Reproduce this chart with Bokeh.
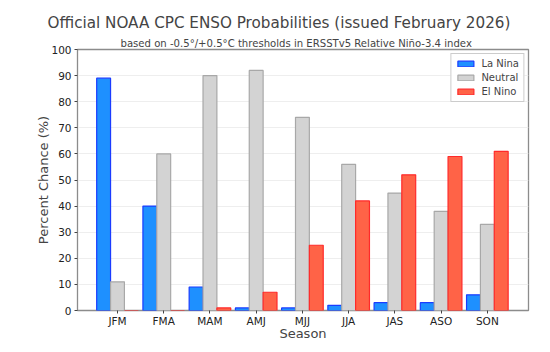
from bokeh.plotting import figure
from bokeh.models import ColumnDataSource, FixedTicker, Range1d, Title, Legend, LegendItem
from bokeh.embed import file_html
from bokeh.resources import INLINE

seasons = ["JFM", "FMA", "MAM", "AMJ", "MJJ", "JJA", "JAS", "ASO", "SON"]
la_nina = [89, 40, 9, 1, 1, 2, 3, 3, 6]
neutral = [11, 60, 90, 92, 74, 56, 45, 38, 33]
el_nino = [0, 0, 1, 7, 25, 42, 52, 59, 61]
y_ticks = [0, 10, 20, 30, 40, 50, 60, 70, 80, 90, 100]

FONT = "DejaVu Sans"
xs = list(range(len(seasons)))

p = figure(width=550, height=352, output_backend="svg", toolbar_location=None,
           x_range=Range1d(-0.865, 8.89), y_range=Range1d(0, 100),
           min_border_left=77, min_border_right=22, min_border_top=49, min_border_bottom=42)

series = [
    ("La Nina", la_nina, -0.3, "#1E90FF", "#1a3cff"),
    ("Neutral", neutral, 0.0, "#D3D3D3", "#a8a8a8"),
    ("El Nino", el_nino, 0.3, "#FF6347", "#ff2a2a"),
]
items = []
for name, vals, off, fill, edge in series:
    src = ColumnDataSource(dict(x=[x + off for x in xs], top=vals))
    r = p.vbar(x="x", top="top", width=0.3, bottom=0, source=src,
               fill_color=fill, line_color=edge, line_width=1.2)
    items.append(LegendItem(label=name, renderers=[r]))

legend = Legend(items=items, location="top_right", label_text_font=FONT,
                label_text_font_size="10px", border_line_color="#cccccc",
                border_line_alpha=1, background_fill_alpha=0.9,
                glyph_width=20, glyph_height=7, spacing=3, padding=4,
                label_height=10, margin=4, label_standoff=6)
p.add_layout(legend)

p.xaxis.ticker = FixedTicker(ticks=xs)
p.xaxis.major_label_overrides = {i: s for i, s in enumerate(seasons)}
p.yaxis.ticker = FixedTicker(ticks=y_ticks)
p.xaxis.axis_label = "Season"
p.yaxis.axis_label = "Percent Chance (%)"
for ax in (p.xaxis, p.yaxis):
    ax.axis_label_text_font = FONT
    ax.axis_label_text_font_size = "13px"
    ax.axis_label_text_font_style = "normal"
    ax.major_label_text_font = FONT
    ax.major_label_text_font_size = "10.5px"
    ax.major_label_text_color = "#222222"
    ax.axis_line_color = None
    ax.major_tick_line_color = "#444444"
    ax.major_tick_out = 3
    ax.major_tick_in = 0
    ax.minor_tick_line_color = None
p.yaxis.major_label_standoff = 3
p.xaxis.major_label_standoff = 1
p.yaxis.axis_label_standoff = -3
p.xaxis.axis_label_standoff = -4
p.xgrid.grid_line_color = None
p.ygrid.grid_line_color = "#eeeeee"
p.ygrid.grid_line_width = 1
p.outline_line_color = "#8c8c8c"
p.outline_line_width = 1.3

p.add_layout(Title(text="based on -0.5°/+0.5°C thresholds in ERSSTv5 Relative Niño-3.4 index",
                   text_font=FONT, text_font_size="10.1px", text_font_style="normal",
                   align="left", offset=43, standoff=2), "above")
p.add_layout(Title(text="Official NOAA CPC ENSO Probabilities (issued February 2026)",
                   text_font=FONT, text_font_size="15.2px", text_font_style="normal",
                   align="left", offset=-30, standoff=6), "above")

open("out.html", "w").write(file_html(p, INLINE))
